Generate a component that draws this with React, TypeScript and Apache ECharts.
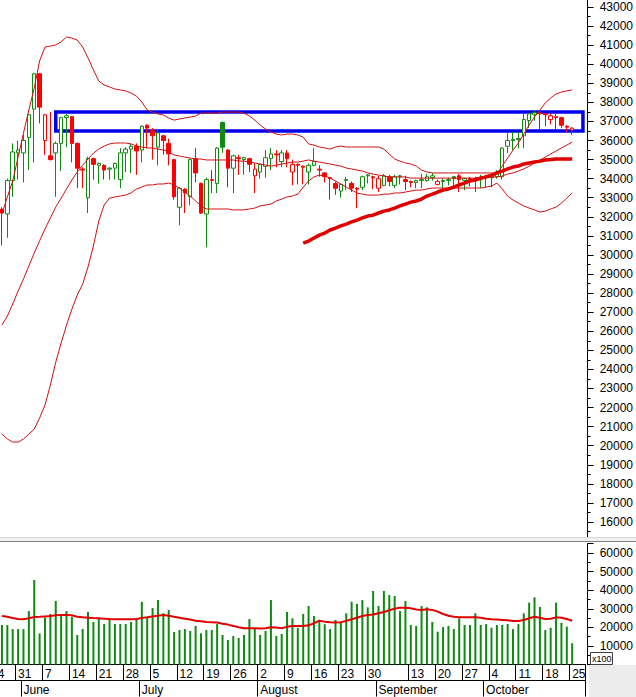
import { useEffect, useRef } from "react";
import * as echarts from "echarts";

// ---- calendar (trading days, Vietnam 2021) ----
const mayDays = [24, 25, 26, 27, 28, 31];
const junDays = [1, 2, 3, 4, 7, 8, 9, 10, 11, 14, 15, 16, 17, 18, 21, 22, 23, 24, 25, 28, 29, 30];
const julDays = [1, 2, 5, 6, 7, 8, 9, 12, 13, 14, 15, 16, 19, 20, 21, 22, 23, 26, 27, 28, 29, 30];
const augDays = [2, 3, 4, 5, 6, 9, 10, 11, 12, 13, 16, 17, 18, 19, 20, 23, 24, 25, 26, 27, 30, 31];
const sepDays = [1, 6, 7, 8, 9, 10, 13, 14, 15, 16, 17, 20, 21, 22, 23, 24, 27, 28, 29, 30];
const octDays = [1, 4, 5, 6, 7, 8, 11, 12, 13, 14, 15, 18, 19, 20, 21, 22, 25];
const padDays = ["10-26", "10-27"];

const weekStarts = ["05-24", "05-31", "06-07", "06-14", "06-21", "06-28", "07-05", "07-12", "07-19", "07-26",
  "08-02", "08-09", "08-16", "08-23", "08-30", "09-13", "09-20", "09-27", "10-04", "10-11", "10-18", "10-25"];
const monthStarts = ["06-01", "07-01", "08-02", "09-01", "10-01"];
const monthNames = ["June", "July", "August", "September", "October"];

// ---- prices (from 05-26) ----
const opens = [32400, 32150, 33900, 35350, 35350, 36150, 37650, 39500, 36000, 35200,
  35350, 35850, 37200, 37250, 35850, 34500, 33000, 35050, 34700, 34700,
  34500, 34550, 33950, 35350, 35550, 35700, 35500, 36800, 36550, 35650,
  36250, 35850, 35000, 32500, 33450, 33050, 35050, 33750, 32150, 33950,
  33750, 36950, 35500, 34550, 35100, 35000, 35050, 34150, 34350, 34650,
  35050, 35300, 34900, 35350, 34350, 34750, 34650, 34350, 34700, 34500,
  34300, 34050, 33750, 33350, 33900, 33750, 33500, 33550, 34150, 34100,
  33500, 33650, 34100, 33650, 34100, 33950, 33850, 33800, 33900, 33900,
  34050, 33700, 33850, 33900, 34100, 34150, 33900, 34000, 33950, 33950,
  34050, 34050, 34100, 34100, 35700, 36000, 36050, 36250, 37050, 37350,
  37450, 37400, 37100, 37250, 37200, 36750, 36550];
const closes = [32200, 33900, 35400, 35500, 36000, 37350, 39500, 37750, 37350, 35000,
  35850, 37200, 37300, 35850, 34550, 34450, 35050, 34750, 34800, 34450,
  34550, 34800, 35350, 35550, 35700, 35450, 36750, 36650, 36250, 36400,
  36000, 35300, 33050, 33500, 33250, 35000, 34300, 32200, 33950, 33900,
  35600, 35650, 34550, 35200, 35050, 35100, 34750, 34500, 34750, 35100,
  35300, 35250, 35350, 35050, 34750, 34700, 34600, 34700, 34900, 34450,
  34100, 34000, 33500, 33700, 33950, 33500, 33450, 34100, 34200, 34050,
  34000, 34150, 33850, 34100, 34150, 33850, 33800, 33900, 33950, 34100,
  34150, 33850, 33900, 33950, 34000, 33950, 34000, 33950, 34000, 34050,
  34100, 34150, 34350, 35600, 36000, 36050, 36100, 37100, 37400, 37450,
  37400, 37350, 37300, 37200, 36800, 36700, 36650];
const lows = [30500, 30900, 33050, 33950, 33800, 34450, 34850, 36900, 35250, 34950,
  33050, 34400, 35650, 34850, 33500, 33500, 32200, 33950, 33750, 33950,
  33950, 33950, 33500, 34350, 34300, 34200, 34850, 35600, 35000, 34700,
  35250, 34700, 32900, 31550, 32200, 32600, 33800, 32150, 30400, 33250,
  33250, 35350, 33550, 33250, 34200, 34200, 34350, 33250, 34000, 34050,
  34450, 34600, 34600, 34600, 33650, 33700, 33700, 33700, 34650, 34100,
  33800, 32900, 33150, 33000, 33400, 33300, 32450, 33400, 33750, 33450,
  33300, 33600, 33600, 33500, 33700, 33400, 33550, 33500, 33500, 33850,
  33900, 33650, 33500, 33650, 33600, 33300, 33400, 33600, 33300, 33500,
  33550, 33550, 34000, 33950, 35350, 35500, 35600, 35600, 36650, 37050,
  36600, 36750, 36850, 36600, 36650, 36450, 36300];
const highs = [32500, 34000, 35850, 36000, 36300, 37400, 39550, 39550, 37400, 37500,
  35950, 37250, 37400, 37300, 35900, 34600, 35150, 35100, 34850, 34750,
  34600, 34850, 35600, 35650, 35850, 35850, 36800, 36850, 36650, 36550,
  36300, 36100, 35050, 33550, 33500, 35050, 35600, 33800, 34050, 34450,
  35650, 37000, 35550, 35250, 35250, 35150, 35100, 34800, 34800, 35500,
  35600, 35500, 35500, 35500, 35000, 34800, 34700, 34800, 35600, 34700,
  34350, 34100, 33850, 33750, 34100, 33850, 33550, 34150, 34250, 34150,
  34150, 34250, 34200, 34200, 34200, 34150, 33900, 33950, 34250, 34250,
  34300, 33950, 34000, 34050, 34150, 34250, 34050, 34100, 34100, 34200,
  34200, 34200, 34450, 35650, 36450, 36450, 36450, 37450, 37450, 37550,
  37550, 37400, 37400, 37400, 37250, 36800, 36700];

const bbUpper = [32150, 33040, 33880, 35130, 36390, 37600, 38750, 40170, 40900, 40950,
  41010, 41170, 41430, 41370, 41270, 40900, 40330, 39700, 39120, 38910,
  38810, 38700, 38650, 38600, 38490, 38330, 38020, 37600, 37490, 37390,
  37340, 37180, 37070, 37130, 37180, 37230, 37280, 37440, 37440, 37440,
  37440, 37490, 37490, 37490, 37490, 37440, 37280, 37070, 36810, 36600,
  36450, 36340, 36290, 36340, 36340, 36290, 36180, 35820, 35760, 35660,
  35610, 35550, 35660, 35710, 35660, 35660, 35660, 35660, 35660, 35660,
  35660, 35550, 35290, 35030, 34920, 34820, 34770, 34660, 34450, 34350,
  34300, 34300, 34300, 34300, 34300, 34300, 34300, 34300, 34300, 34300,
  34300, 34300, 34240, 34660, 35080, 35500, 35870, 36340, 36810, 37230,
  37600, 37970, 38230, 38440, 38540, 38600, 38650];
const bbMid = [26320, 26800, 27430, 28110, 28740, 29420, 30100, 30740, 31360, 31940,
  32510, 32980, 33460, 33930, 34350, 34710, 35030, 35340, 35550, 35710,
  35820, 35870, 35870, 35870, 35820, 35710, 35660, 35610, 35610, 35550,
  35500, 35400, 35240, 35190, 35130, 35080, 35030, 35030, 34980, 34980,
  34980, 34980, 34980, 34980, 34920, 34920, 34870, 34820, 34770, 34710,
  34660, 34710, 34770, 34820, 34870, 34870, 34920, 34980, 34920, 34870,
  34820, 34770, 34710, 34660, 34560, 34510, 34450, 34400, 34300, 34240,
  34190, 34140, 34090, 34090, 34090, 34090, 34030, 34030, 34030, 34030,
  34030, 34030, 34030, 34030, 34030, 34030, 34030, 34030, 34030, 34090,
  34090, 34090, 34090, 34140, 34240, 34300, 34400, 34510, 34660, 34820,
  34980, 35130, 35290, 35450, 35610, 35760, 35920];
const bbLower = [20610, 20350, 20190, 20190, 20350, 20610, 20870, 21450, 22130, 23180,
  24380, 25380, 26320, 27160, 27900, 28470, 29370, 30470, 31780, 32620,
  32980, 33040, 33090, 33140, 33250, 33460, 33560, 33670, 33670, 33720,
  33720, 33770, 33670, 33510, 33300, 33090, 32830, 32570, 32410, 32410,
  32410, 32410, 32410, 32360, 32360, 32360, 32410, 32460, 32570, 32620,
  32670, 32830, 32930, 33040, 33090, 33190, 33560, 33880, 34090, 34190,
  34140, 34030, 33880, 33720, 33560, 33400, 33250, 33190, 33140, 33140,
  33140, 33190, 33190, 33250, 33250, 33300, 33350, 33400, 33400, 33460,
  33510, 33510, 33510, 33510, 33510, 33510, 33510, 33510, 33510, 33510,
  33560, 33610, 33770, 33460, 33090, 32880, 32720, 32570, 32460, 32360,
  32250, 32300, 32410, 32510, 32720, 32980, 33250];
// long moving average, visible from 08-12
const maStart = "08-12";
const maLong = [30620, 30730, 30890, 31040, 31150, 31310, 31410, 31520, 31620, 31730,
  31830, 31940, 32040, 32090, 32200, 32300, 32360, 32460, 32570, 32670,
  32770, 32830, 32930, 33090, 33190, 33300, 33400, 33460, 33560, 33670,
  33770, 33880, 33930, 34030, 34090, 34190, 34300, 34400, 34510, 34610,
  34660, 34770, 34820, 34870, 34920, 34980, 35000, 35030, 35030, 35030, 35030];

// ---- volume (x100) ----
const volumes = [21300, 21300, 19100, 19100, 19100, 28800, 45500, 16800, 25200, 27200,
  34200, 26100, 28800, 25700, 15900, 19100, 28300, 22900, 24900, 21800,
  24400, 21800, 21800, 21800, 22900, 24400, 33700, 25700, 30400, 34700,
  27600, 29400, 17500, 18600, 19100, 18100, 20800, 16800, 18600, 18600,
  21800, 15900, 13200, 15400, 14300, 15900, 24500, 19300, 15900, 18100,
  34700, 15400, 16500, 28300, 24900, 19700, 27200, 31500, 26100, 24000,
  21700, 19100, 24000, 23100, 27600, 33800, 32600, 34700, 30800, 39600,
  31500, 39600, 37400, 36900, 28800, 34200, 21300, 20800, 31500, 30800,
  22900, 17700, 20200, 20800, 19100, 24900, 21300, 21300, 27600, 21300,
  21800, 19800, 21300, 21300, 21800, 19100, 21800, 27600, 33300, 36200,
  31000, 18600, 19800, 33300, 22500, 20400, 11500];
const volMA = [26100, 25700, 25000, 24500, 24400, 24900, 25600, 25700, 25900, 26100,
  26500, 26700, 26700, 26500, 25700, 25400, 25200, 25000, 24900, 24700,
  24500, 24400, 24400, 24400, 24400, 24500, 25000, 25400, 25900, 26300,
  26700, 26300, 25700, 25200, 24700, 24200, 23600, 23300, 22900, 22800,
  22600, 22000, 21500, 20800, 20100, 19500, 19500, 19500, 19400, 19500,
  20100, 19900, 19500, 20300, 20800, 20800, 20800, 21100, 22200, 23600,
  23100, 22800, 22600, 22800, 23500, 24400, 25200, 26100, 26700, 26900,
  27600, 28300, 29200, 30100, 30600, 30600, 30300, 29600, 29400, 29700,
  29400, 28500, 27200, 26300, 25700, 25400, 25400, 25400, 25400, 25200,
  24700, 24400, 24200, 24000, 23800, 23500, 23500, 24000, 24900, 25700,
  25200, 24500, 24700, 25400, 25200, 24500, 23600];

// highlighted resistance zone
const zoneFrom = "06-09";
const zoneTo = "10-27";
const zoneLow = 36500;
const zoneHigh = 37500;

const key = (m: string, d: number) => m + "-" + (d < 10 ? "0" : "") + d;
const allDays = [
  ...mayDays.map((d) => key("05", d)),
  ...junDays.map((d) => key("06", d)),
  ...julDays.map((d) => key("07", d)),
  ...augDays.map((d) => key("08", d)),
  ...sepDays.map((d) => key("09", d)),
  ...octDays.map((d) => key("10", d)),
];
const categories = [...allDays, ...padDays];
const tradeDays = allDays.slice(2);

const RED = "#ff0000";
const GREEN = "#108a10";
const FONT = "'Liberation Sans', Arial, sans-serif";

// the chart canvas is larger than the page and shifted up/left, so the plot can start off-page
const OX = 20;
const OY = 20;

function buildOption() {
  const weekSet = new Set(weekStarts);
  const monthMap: Record<string, string> = {};
  monthStarts.forEach((k, i) => (monthMap[k] = monthNames[i]));

  const candles = tradeDays.map((d, i) => {
    const o = opens[i], c = closes[i];
    const prev = i > 0 ? closes[i - 1] : Infinity;
    const col = c >= prev ? GREEN : RED;
    const hollow = c > o;
    return {
      value: [d, o, c, lows[i], highs[i]],
      itemStyle: {
        color: hollow ? "#ffffff" : col,
        color0: col,
        borderColor: col,
        borderColor0: col,
        borderWidth: 1,
      },
    };
  });
  const pair = (arr: number[], start = 0) => arr.map((v, i) => [tradeDays[start + i], v]);
  const maStartIdx = tradeDays.indexOf(maStart);

  const gridLeft = OX - 11.5;
  const gridWidth = 598.5;

  return {
    animation: false,
    backgroundColor: "#ffffff",
    grid: [
      { left: gridLeft, width: gridWidth, top: OY - 12.07, height: 553.15 },
      { left: gridLeft, width: gridWidth, top: OY + 543.7, height: 120.9 },
    ],
    xAxis: [
      {
        type: "category", gridIndex: 0, data: categories, boundaryGap: true,
        axisLine: { show: false }, axisTick: { show: false }, axisLabel: { show: false }, splitLine: { show: false },
      },
      {
        type: "category", gridIndex: 1, data: categories, boundaryGap: true,
        axisLine: { show: true, lineStyle: { color: "#000", width: 1 } },
        axisTick: { show: true, interval: (_i: number, v: string) => weekSet.has(v), length: 16, lineStyle: { color: "#000" } },
        axisLabel: {
          interval: (_i: number, v: string) => weekSet.has(v),
          formatter: (v: string) => String(parseInt(v.slice(3), 10)),
          align: "left", margin: 3, fontSize: 12, color: "#000", fontFamily: FONT,
        },
        splitLine: { show: false },
      },
      {
        type: "category", gridIndex: 1, data: categories, boundaryGap: true, position: "bottom", offset: 16,
        axisLine: { show: true, lineStyle: { color: "#000", width: 1 } },
        axisTick: { show: true, interval: (_i: number, v: string) => v in monthMap, length: 16, lineStyle: { color: "#000" } },
        axisLabel: {
          interval: (_i: number, v: string) => v in monthMap,
          formatter: (v: string) => monthMap[v] || "",
          align: "left", margin: 3, fontSize: 12, color: "#000", fontFamily: FONT,
        },
        splitLine: { show: false },
      },
    ],
    yAxis: [
      {
        type: "value", gridIndex: 0, position: "right", offset: 2, min: 15000, max: 44000, interval: 1000,
        axisLine: { show: true, lineStyle: { color: "#000" } },
        axisTick: { show: true, length: 6, lineStyle: { color: "#000" } },
        minorTick: { show: true, splitNumber: 2, length: 3, lineStyle: { color: "#000" } },
        splitLine: { show: false },
        axisLabel: {
          margin: 12, fontSize: 12, color: "#000", fontFamily: FONT,
          formatter: (v: number) => (v >= 16000 && v <= 43000 ? String(v) : ""),
        },
      },
      {
        type: "value", gridIndex: 1, position: "right", offset: 2, min: 0, max: 65000, interval: 10000,
        axisLine: { show: true, lineStyle: { color: "#000" } },
        axisTick: { show: true, length: 6, lineStyle: { color: "#000" } },
        minorTick: { show: true, splitNumber: 2, length: 3, lineStyle: { color: "#000" } },
        splitLine: { show: false },
        axisLabel: {
          margin: 12, fontSize: 12, color: "#000", fontFamily: FONT,
          formatter: (v: number) => (v >= 10000 && v <= 60000 ? String(v) : ""),
        },
      },
    ],
    series: [
      {
        type: "candlestick", xAxisIndex: 0, yAxisIndex: 0, barWidth: 4,
        encode: { x: 0, y: [1, 2, 3, 4] },
        data: candles, z: 2,
      },
      {
        type: "line", xAxisIndex: 0, yAxisIndex: 0, data: pair(bbUpper), symbol: "none",
        lineStyle: { color: "#d01010", width: 1 }, z: 3,
      },
      {
        type: "line", xAxisIndex: 0, yAxisIndex: 0, data: pair(bbMid), symbol: "none",
        lineStyle: { color: "#d01010", width: 1 }, z: 3,
      },
      {
        type: "line", xAxisIndex: 0, yAxisIndex: 0, data: pair(bbLower), symbol: "none",
        lineStyle: { color: "#d01010", width: 1 }, z: 3,
      },
      {
        type: "line", xAxisIndex: 0, yAxisIndex: 0, data: pair(maLong, maStartIdx), symbol: "none",
        lineStyle: { color: "#e00000", width: 3.5 }, z: 4,
        markArea: {
          silent: true,
          itemStyle: { color: "rgba(0,0,0,0)", borderColor: "#0000f0", borderWidth: 3.5 },
          data: [[{ xAxis: zoneFrom, yAxis: zoneHigh }, { xAxis: zoneTo, yAxis: zoneLow }]],
        },
      },
      {
        type: "bar", xAxisIndex: 1, yAxisIndex: 1, data: pair(volumes), barWidth: 2,
        itemStyle: { color: GREEN }, z: 2,
      },
      {
        type: "line", xAxisIndex: 1, yAxisIndex: 1, data: pair(volMA), symbol: "none",
        lineStyle: { color: "#e00000", width: 2 }, z: 3,
      },
    ],
    graphic: [
      { type: "rect", shape: { x: OX, y: OY + 537, width: 636, height: 5 }, style: { fill: "#f0f0f0" }, z: 100 },
      { type: "line", shape: { x1: OX, y1: OY + 537.5, x2: OX + 636, y2: OY + 537.5 }, style: { stroke: "#d8d8d8", lineWidth: 1 }, z: 101 },
      { type: "line", shape: { x1: OX, y1: OY + 541.5, x2: OX + 636, y2: OY + 541.5 }, style: { stroke: "#808080", lineWidth: 1 }, z: 101 },
      { type: "rect", shape: { x: OX + 589, y: OY + 665, width: 47, height: 32 }, style: { fill: "#ececec" }, z: 100 },
      { type: "rect", shape: { x: OX + 590.5, y: OY + 652.5, width: 22, height: 12 }, style: { fill: "#ffffff", stroke: "#404040", lineWidth: 1 }, z: 100 },
      { type: "text", x: OX + 592, y: OY + 654, style: { text: "x100", fontSize: 9, fill: "#000", fontFamily: FONT }, z: 101 },
    ],
  };
}

export default function App() {
  const ref = useRef<HTMLDivElement>(null);
  useEffect(() => {
    if (!ref.current) return;
    const chart = echarts.init(ref.current, null, { renderer: "svg" });
    chart.setOption(buildOption() as any);
    return () => chart.dispose();
  }, []);
  return (
    <div
      ref={ref}
      style={{ position: "fixed", left: -OX, top: -OY, width: 636 + OX, height: 697 + OY, background: "#fff" }}
    />
  );
}
